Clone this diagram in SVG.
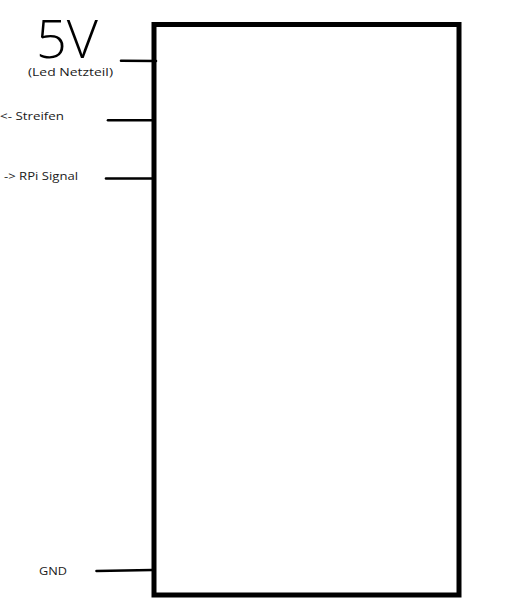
<svg xmlns="http://www.w3.org/2000/svg" width="516" height="610" viewBox="0 0 516 610">
<style>
.lbl{font-family:"Open Sans","Noto Sans","Liberation Sans",sans-serif;font-size:11.5px;fill:#1a1a1a}
.wire{stroke:#000;stroke-width:2.6;stroke-linecap:round;fill:none}
</style>
<rect width="516" height="610" fill="#fff"/>
<g id="board">
<rect x="154" y="24.5" width="305" height="570.5" fill="none" stroke="#000" stroke-width="5"/>
</g>
<g id="labels">
<text x="36" y="58" font-family="'Open Sans','Liberation Sans',sans-serif" font-weight="300" font-size="54" textLength="62" lengthAdjust="spacingAndGlyphs" fill="#000">5V</text>
<text class="lbl" x="28" y="76" textLength="85" lengthAdjust="spacingAndGlyphs">(Led Netzteil)</text>
<text class="lbl" x="0" y="119.5" textLength="64" lengthAdjust="spacingAndGlyphs">&lt;- Streifen</text>
<text class="lbl" x="4" y="179.5" textLength="74" lengthAdjust="spacingAndGlyphs">-&gt; RPi Signal</text>
<text class="lbl" x="39" y="574.5" textLength="28" lengthAdjust="spacingAndGlyphs">GND</text>
</g>
<g id="connectors">
<line class="wire" x1="121" y1="60.7" x2="156" y2="61"/>
<line class="wire" x1="108" y1="120.3" x2="152" y2="120.3"/>
<line class="wire" x1="106" y1="178.5" x2="152" y2="178.5"/>
<line class="wire" x1="96.5" y1="571" x2="152" y2="570"/>
</g>
</svg>
